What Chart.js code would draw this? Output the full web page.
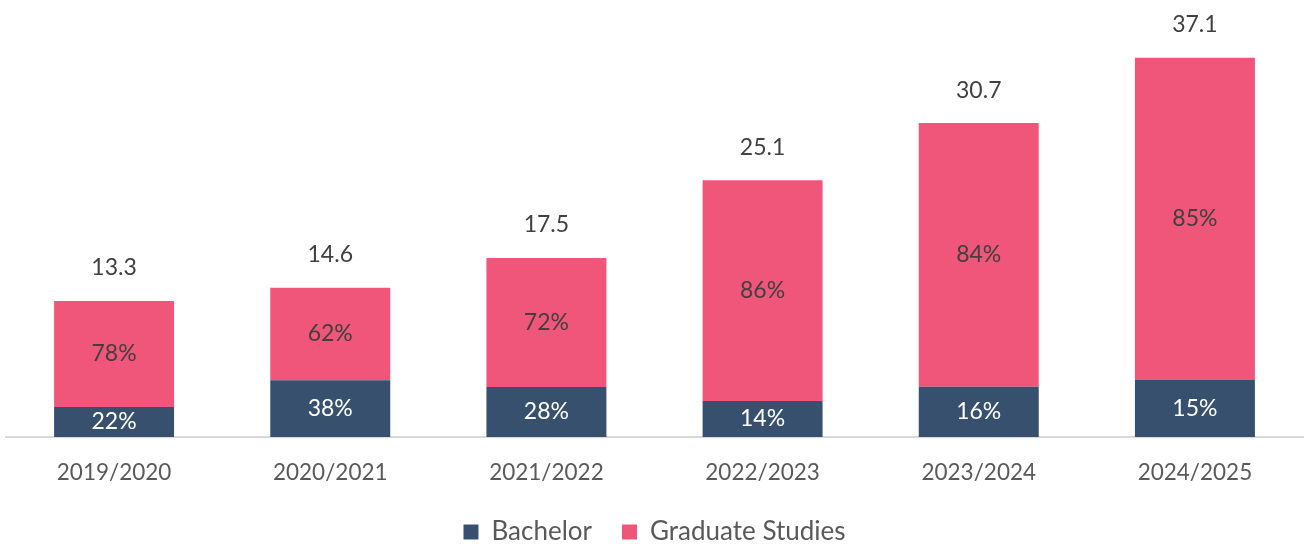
<!DOCTYPE html>
<html>
<head>
<meta charset="utf-8">
<script src="https://cdn.jsdelivr.net/npm/chart.js@4.4.1/dist/chart.umd.min.js"></script>
<style>
  html, body { margin: 0; padding: 0; background: #ffffff; }
  #wrap { width: 1305px; height: 544px; position: relative; }
</style>
</head>
<body>
<div id="wrap"><canvas id="c" width="1305" height="544"></canvas></div>
<script>
const categories = ["2019/2020", "2020/2021", "2021/2022", "2022/2023", "2023/2024", "2024/2025"];
const totals = [13.3, 14.6, 17.5, 25.1, 30.7, 37.1];
const bachelorValues = [2.93, 5.55, 4.90, 3.51, 4.91, 5.57];
const graduateValues = [10.37, 9.05, 12.60, 21.59, 25.79, 31.53];
const bachelorLabels = ["22%", "38%", "28%", "14%", "16%", "15%"];
const graduateLabels = ["78%", "62%", "72%", "86%", "84%", "85%"];
const totalLabels = ["13.3", "14.6", "17.5", "25.1", "30.7", "37.1"];

const FONT = "Lato, 'Noto Sans', sans-serif";

const labelPlugin = {
  id: 'barLabels',
  beforeLayout(chart) {
    const lg = chart.legend;
    if (lg && !lg._patched) {
      const origFit = lg.fit.bind(lg);
      lg.fit = function () {
        origFit();
        this.height = 55;
      };
      lg._patched = true;
    }
  },
  afterDatasetsDraw(chart) {
    const ctx = chart.ctx;
    ctx.save();
    ctx.textAlign = 'center';
    ctx.textBaseline = 'middle';
    const m0 = chart.getDatasetMeta(0);
    const m1 = chart.getDatasetMeta(1);
    const yScale = chart.scales.y;
    ctx.font = "23px " + FONT;
    m0.data.forEach((bar, i) => {
      ctx.fillStyle = '#ffffff';
      ctx.fillText(bachelorLabels[i], bar.x, (bar.y + bar.base) / 2);
    });
    m1.data.forEach((bar, i) => {
      ctx.fillStyle = '#404040';
      ctx.fillText(graduateLabels[i], bar.x, (bar.y + bar.base) / 2);
      ctx.fillText(totalLabels[i], bar.x, yScale.getPixelForValue(totals[i]) - 33);
    });
    ctx.restore();
  }
};

new Chart(document.getElementById('c'), {
  type: 'bar',
  data: {
    labels: categories,
    datasets: [
      { label: 'Bachelor', data: bachelorValues, backgroundColor: '#36506e', categoryPercentage: 1, barPercentage: 0.555 },
      { label: 'Graduate Studies', data: graduateValues, backgroundColor: '#f05679', categoryPercentage: 1, barPercentage: 0.555 }
    ]
  },
  options: {
    responsive: false,
    animation: false,
    layout: { padding: { left: 6, right: 2, top: 28, bottom: 0 } },
    scales: {
      x: {
        stacked: true,
        grid: { display: false, drawTicks: false },
        border: { display: true, color: '#d9d9d9', width: 2 },
        ticks: { color: '#595959', font: { family: FONT, size: 22.5 }, padding: 22 },
        afterFit(scale) { scale.height = 52; }
      },
      y: {
        stacked: true,
        display: false,
        min: 0,
        max: 40
      }
    },
    plugins: {
      legend: {
        position: 'bottom',
        labels: { color: '#595959', font: { family: FONT, size: 26 }, boxWidth: 15, boxHeight: 15, padding: 30 }
      },
      tooltip: { enabled: false }
    }
  },
  plugins: [labelPlugin]
});
</script>
</body>
</html>
